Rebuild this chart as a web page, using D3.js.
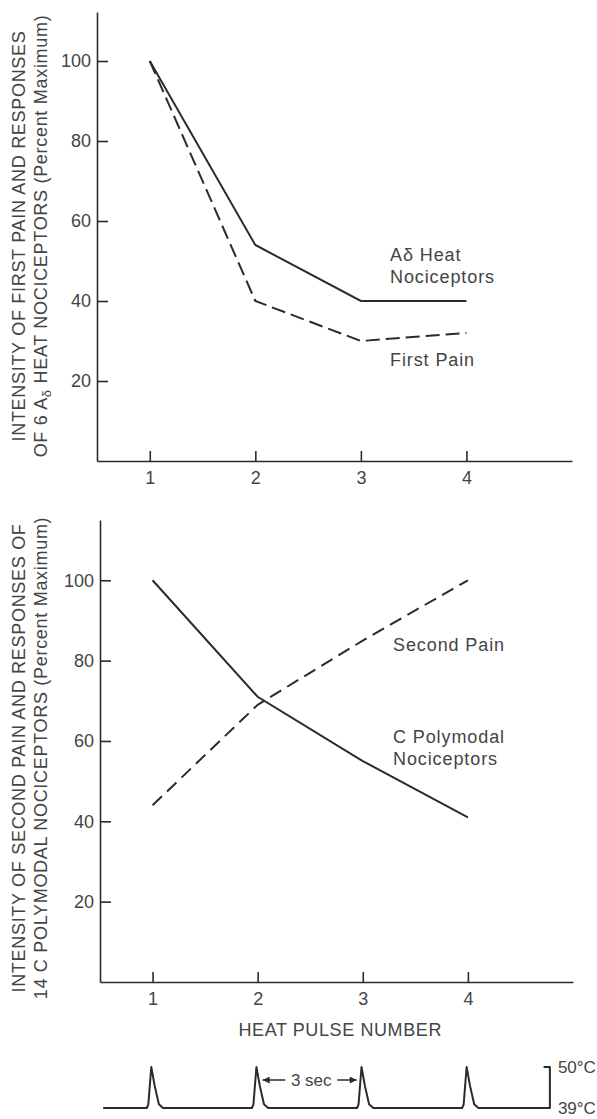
<!DOCTYPE html>
<html>
<head>
<meta charset="utf-8">
<script src="https://cdn.jsdelivr.net/npm/d3@7"></script>
<style>
  body { margin: 0; background: #fff; }
  text { font-family: "Liberation Sans", Arial, sans-serif; fill: #444; }
</style>
</head>
<body>
<svg width="597" height="1119"></svg>
<script>
// data
var pulses = [1, 2, 3, 4];
var aDeltaHeat = [100, 54, 40, 40];
var firstPain = [100, 40, 30, 32];
var cPolymodal = [100, 71, 55, 41];
var secondPain = [44, 69, 85, 100];
var yTicks = [20, 40, 60, 80, 100];

// stimulus trace: offset from each pulse (in pulse units) and skin temperature
var pulseOffsets = [-0.055, -0.04, -0.012, 0.02, 0.06, 0.1];
var pulseTemps = [39, 40, 50, 45, 40, 39];
var traceStart = 0.53, traceEnd = 4.78;
var tempLevels = [39, 50];

var svg = d3.select("svg");
var ink = "#2b2b2b";

function drawPanel(opts) {
  var x = d3.scaleLinear().domain([0.5, 5]).range(opts.xRange);
  var y = d3.scaleLinear().domain([0, opts.yMax]).range(opts.yRange);

  var xAxis = d3.axisBottom(x).tickValues(pulses).tickFormat(d3.format("d"))
    .tickSizeInner(-10).tickSizeOuter(0).tickPadding(10);
  var gx = svg.append("g").attr("transform", "translate(0," + y(0) + ")").call(xAxis);
  var yAxis = d3.axisLeft(y).tickValues(yTicks).tickFormat(d3.format("d"))
    .tickSizeInner(-11).tickSizeOuter(0).tickPadding(6);
  var gy = svg.append("g").attr("transform", "translate(" + x(0.5) + ",0)").call(yAxis);
  [gx, gy].forEach(function(g) {
    g.selectAll("path, line").attr("stroke", ink).attr("stroke-width", 1.6);
    g.selectAll("text").attr("font-size", "18px").attr("fill", "#444")
      .attr("font-family", '"Liberation Sans", Arial, sans-serif');
  });

  var line = d3.line().x(function(d, i) { return x(pulses[i]); }).y(function(d) { return y(d); });
  opts.series.forEach(function(s) {
    svg.append("path").datum(s.values)
      .attr("d", line)
      .attr("fill", "none")
      .attr("stroke", ink)
      .attr("stroke-width", 2)
      .attr("stroke-dasharray", s.dash || null);
  });

  opts.labels.forEach(function(l) {
    svg.append("text").attr("x", l.x).attr("y", l.y)
      .attr("font-size", "18px").attr("letter-spacing", "0.9px")
      .text(l.text);
  });

  opts.title.forEach(function(line, i) {
    var t = svg.append("text")
      .attr("transform", "translate(" + opts.titleX[i] + "," + opts.titleY + ") rotate(-90)")
      .attr("text-anchor", "middle")
      .attr("font-size", "18px")
      .attr("letter-spacing", "0.7px");
    line.forEach(function(p) {
      var ts = t.append("tspan").text(p.t);
      if (p.sub) ts.attr("font-size", "13px").attr("dy", 4);
      if (p.back) ts.attr("dy", -4);
    });
  });
  return x;
}

drawPanel({
  xRange: [97, 572], yRange: [461, 12], yMax: 112.25,
  series: [{ values: aDeltaHeat }, { values: firstPain, dash: "14,6" }],
  labels: [
    { x: 390, y: 261, text: "A\u03b4  Heat" },
    { x: 390, y: 283, text: "Nociceptors" },
    { x: 390, y: 366, text: "First Pain" }
  ],
  titleX: [25, 47], titleY: 236,
  title: [
    [{ t: "INTENSITY OF FIRST PAIN AND RESPONSES" }],
    [{ t: "OF 6 A" }, { t: "\u03b4", sub: true }, { t: " HEAT NOCICEPTORS (Percent Maximum)", back: true }]
  ]
});

var xBot = drawPanel({
  xRange: [100, 573], yRange: [982, 520], yMax: 115,
  series: [{ values: cPolymodal }, { values: secondPain, dash: "13,7" }],
  labels: [
    { x: 393, y: 651, text: "Second Pain" },
    { x: 393, y: 743, text: "C Polymodal" },
    { x: 393, y: 765, text: "Nociceptors" }
  ],
  titleX: [25, 47], titleY: 758,
  title: [
    [{ t: "INTENSITY OF SECOND PAIN AND RESPONSES OF" }],
    [{ t: "14 C POLYMODAL NOCICEPTORS (Percent Maximum)" }]
  ]
});

svg.append("text")
  .attr("x", (xBot(1) + xBot(4)) / 2 + 30).attr("y", 1036)
  .attr("text-anchor", "middle").attr("font-size", "18px").attr("letter-spacing", "0.6px")
  .text("HEAT PULSE NUMBER");

// heat pulse stimulus trace
var tempY = d3.scaleLinear().domain(tempLevels).range([1108, 1067]);
var trace = [[traceStart, 39]];
pulses.forEach(function(p) {
  pulseOffsets.forEach(function(o, i) { trace.push([p + o, pulseTemps[i]]); });
});
trace.push([traceEnd, 39], [traceEnd, 50], [traceEnd - 0.06, 50]);
svg.append("path").datum(trace)
  .attr("d", d3.line().x(function(d) { return xBot(d[0]); }).y(function(d) { return tempY(d[1]); }))
  .attr("fill", "none").attr("stroke", ink).attr("stroke-width", 2).attr("stroke-linejoin", "round");

tempLevels.forEach(function(t) {
  svg.append("text").attr("x", xBot(traceEnd) + 8).attr("y", tempY(t) + 6)
    .attr("font-size", "17px").text(t + "\u00b0C");
});

// 3 sec interval marker
svg.append("defs").append("marker")
  .attr("id", "arr").attr("viewBox", "0 0 10 10").attr("refX", 10).attr("refY", 5)
  .attr("markerWidth", 9).attr("markerHeight", 7).attr("markerUnits", "userSpaceOnUse")
  .attr("orient", "auto-start-reverse")
  .append("path").attr("d", "M0,0L10,5L0,10z").attr("fill", ink);
var mid = (xBot(2) + xBot(3)) / 2;
svg.append("line").attr("x1", mid - 25).attr("x2", xBot(2) + 5).attr("y1", 1080).attr("y2", 1080)
  .attr("stroke", ink).attr("stroke-width", 1.5).attr("marker-end", "url(#arr)");
svg.append("line").attr("x1", mid + 27).attr("x2", xBot(3) - 6).attr("y1", 1080).attr("y2", 1080)
  .attr("stroke", ink).attr("stroke-width", 1.5).attr("marker-end", "url(#arr)");
svg.append("text").attr("x", mid + 1).attr("y", 1086).attr("text-anchor", "middle")
  .attr("font-size", "17px").text("3 sec");
</script>
</body>
</html>
